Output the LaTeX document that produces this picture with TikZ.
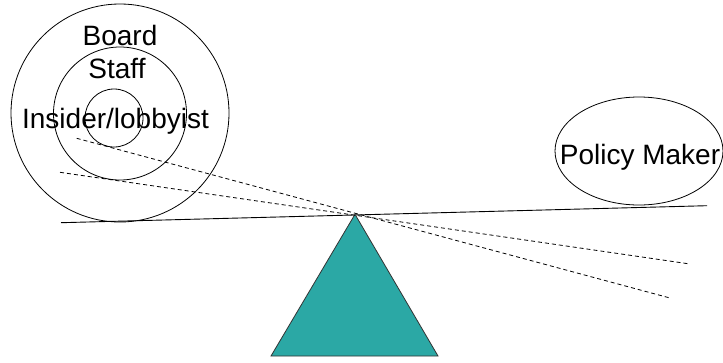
\documentclass[tikz,border=0pt]{standalone}
\usepackage{fontspec}
\setmainfont{Liberation Sans}
\usetikzlibrary{shapes.geometric}
\definecolor{fulcrumteal}{RGB}{43,168,165}
\tikzset{
  ring/.style={circle, draw=black, line width=0.8pt, inner sep=0pt},
  label text/.style={anchor=base, inner sep=0pt, font=\fontsize{28}{30}\selectfont},
  beam/.style={draw=black, line width=0.9pt},
  sightline/.style={draw=black, line width=0.8pt, dash pattern=on 4pt off 3pt},
  fulcrum/.style={fill=fulcrumteal, draw=black!80, line width=0.8pt, line join=miter}
}
\begin{document}
\begin{tikzpicture}[x=1pt, y=-1pt]
  \useasboundingbox (0,0) rectangle (723,362);

  % concentric rings of influence
  \node[ring, minimum size=218pt] (board) at (120,113) {};
  \node[ring, minimum size=133pt] (staff) at (120,113.5) {};
  \node[ring, minimum size=58pt]  (insider) at (114,118) {};

  % policy maker
  \node[ellipse, draw=black, line width=0.8pt, inner sep=0pt,
        minimum width=168pt, minimum height=108pt] (policy) at (639,151) {};

  % lever beam and pivot
  \coordinate (beamL) at (61,222.7);
  \coordinate (beamR) at (707,205.7);
  \draw[beam] (beamL) -- (beamR);

  \coordinate (apex) at (355,214.3);
  \coordinate (baseL) at (271,356);
  \coordinate (baseR) at (438,356);
  \path[fulcrum] (apex) -- (baseR) -- (baseL) -- cycle;

  % dashed tilt lines through the pivot
  \coordinate (tiltAstart) at (76.7,138.3);
  \coordinate (tiltAend) at (670,298);
  \coordinate (tiltBstart) at (60,172.3);
  \coordinate (tiltBend) at (690,264);
  \draw[sightline] (tiltAstart) -- (tiltAend);
  \draw[sightline] (tiltBstart) -- (tiltBend);

  % labels
  \node[label text] (boardtext) at (120,45) {Board};
  \node[label text] (stafftext) at (117,78) {Staff};
  \node[label text] (insidertext) at (115.5,128) {Insider/lobbyist};
  \node[label text] (policytext) at (640,164) {Policy Maker};
\end{tikzpicture}
\end{document}
